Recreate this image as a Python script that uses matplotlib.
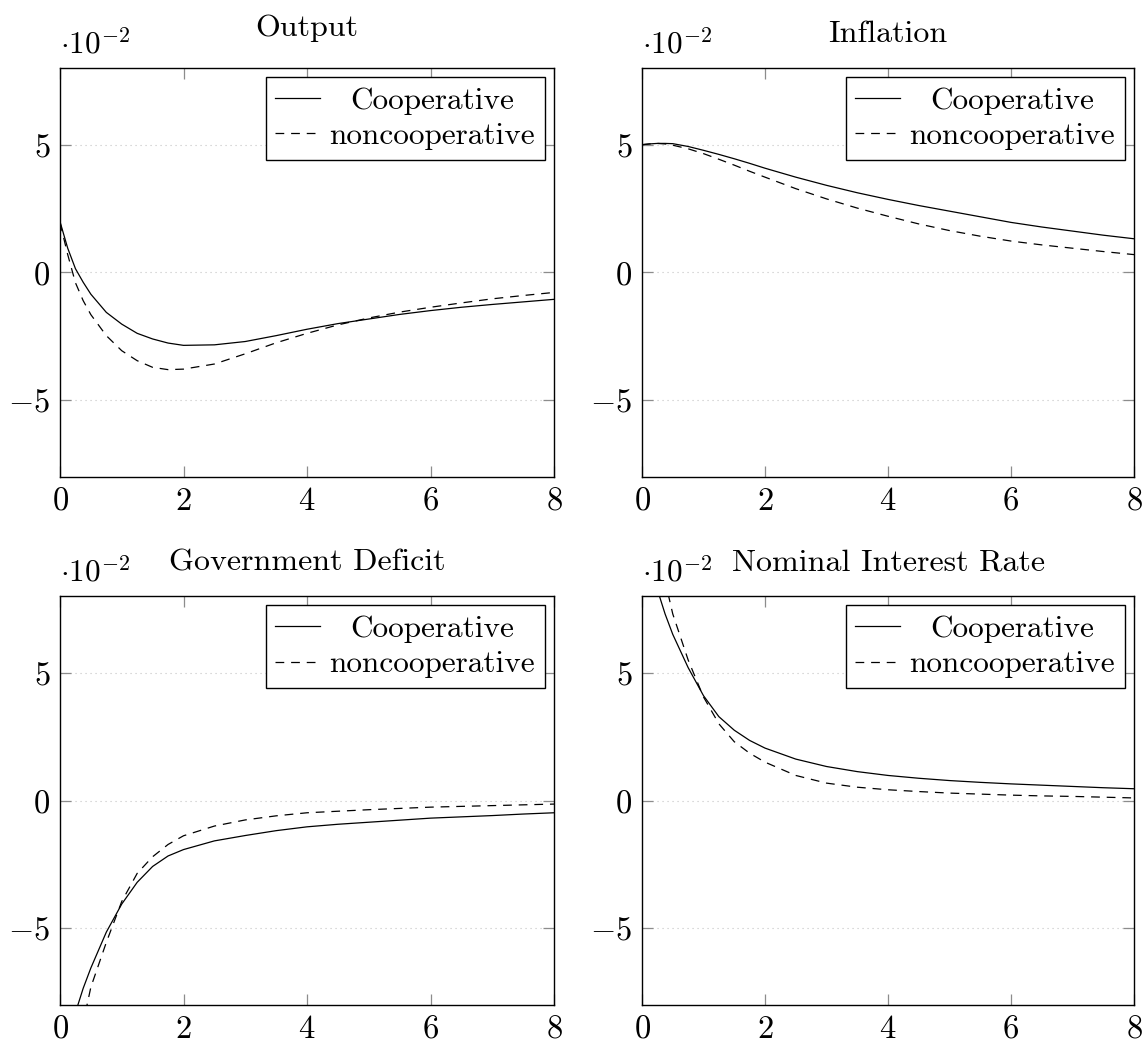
"""Impulse responses: cooperative vs noncooperative policy (2x2 panels)."""
import matplotlib
matplotlib.use("Agg")
import matplotlib.pyplot as plt
import numpy as np

plt.rcParams.update({
    "font.family": "cmr10",
    "mathtext.fontset": "cm",
    "axes.formatter.use_mathtext": True,
    "font.size": 22.5,
})

# horizon; responses in units of 1e-2
x = [0, 0.125, 0.25, 0.375, 0.5, 0.75, 1, 1.25, 1.5, 1.75, 2, 2.5, 3, 3.5,
     4, 4.5, 5, 5.5, 6, 6.5, 7, 7.5, 8]

output_coop = [1.99, 0.95, 0.15, -0.38, -0.85, -1.56, -2.02, -2.38, -2.60, -2.76, -2.85, -2.83, -2.70, -2.47,
               -2.22, -2.00, -1.82, -1.64, -1.49, -1.36, -1.25, -1.15, -1.05]
output_noncoop = [1.95, 0.70, -0.40, -1.10, -1.65, -2.47, -3.06, -3.45, -3.71, -3.80, -3.78, -3.58, -3.18, -2.75,
                  -2.38, -2.05, -1.78, -1.55, -1.36, -1.19, -1.03, -0.90, -0.78]

infl_coop = [5.00, 5.03, 5.05, 5.05, 5.04, 4.93, 4.78, 4.62, 4.45, 4.27, 4.08, 3.73, 3.41, 3.12,
             2.86, 2.62, 2.40, 2.18, 1.96, 1.78, 1.62, 1.46, 1.32]
infl_noncoop = [5.00, 5.03, 5.05, 5.03, 4.98, 4.84, 4.65, 4.43, 4.20, 3.96, 3.73, 3.28, 2.88, 2.52,
                2.20, 1.90, 1.64, 1.42, 1.23, 1.08, 0.95, 0.82, 0.70]

deficit_coop = [np.nan, np.nan, -8.30, -7.35, -6.55, -5.15, -4.05, -3.20, -2.58, -2.17, -1.92, -1.58, -1.37, -1.18,
                -1.03, -0.93, -0.85, -0.77, -0.69, -0.64, -0.59, -0.53, -0.48]
deficit_noncoop = [np.nan, np.nan, -10.5, -8.70, -7.30, -5.55, -3.95, -2.85, -2.20, -1.72, -1.38, -1.00, -0.76, -0.60,
                   -0.48, -0.42, -0.36, -0.31, -0.26, -0.23, -0.20, -0.17, -0.14]

rate_coop = [np.nan, np.nan, 8.25, 7.30, 6.50, 5.20, 4.10, 3.28, 2.75, 2.35, 2.05, 1.62, 1.33, 1.13,
             0.98, 0.87, 0.78, 0.71, 0.65, 0.60, 0.55, 0.50, 0.46]
rate_noncoop = [np.nan, np.nan, 10.5, 8.60, 7.30, 5.50, 4.05, 3.00, 2.30, 1.85, 1.50, 0.98, 0.68, 0.52,
                0.42, 0.35, 0.29, 0.25, 0.21, 0.18, 0.16, 0.13, 0.10]

titles = ["Output", "Inflation", "Government Deficit", "Nominal Interest Rate"]
series = [(output_coop, output_noncoop), (infl_coop, infl_noncoop),
          (deficit_coop, deficit_noncoop), (rate_coop, rate_noncoop)]
labels = ["Cooperative", "noncooperative"]
xticks = [0, 2, 4, 6, 8]
yticks = [-5, 0, 5]

W, H = 1144, 1042
# axes boxes in pixels: left, top, width, height
boxes = [(60, 68, 494, 409), (642, 68, 492, 409),
         (60, 596, 494, 409), (642, 596, 492, 409)]
title_pads = [23, 18.5, 18.5, 18.5]

fig = plt.figure(figsize=(W / 100, H / 100), dpi=100)
legends = []

for (l, t, w, h), title, (coop, noncoop), tpad in zip(boxes, titles, series, title_pads):
    ax = fig.add_axes([l / W, 1 - (t + h) / H, w / W, h / H])
    ax.plot(x, coop, color="black", lw=0.9, label=labels[0])
    ax.plot(x, noncoop, color="black", lw=0.9, ls=(0, (7, 5.5)), label=labels[1])
    ax.set_xlim(0, 8)
    ax.set_ylim(-8, 8)
    ax.set_xticks(xticks)
    ax.set_yticks(yticks)
    for yv in yticks:
        ax.axhline(yv, color="#c4c4c4", lw=0.8, ls=(0, (1, 3.5)), zorder=0)
    ax.tick_params(direction="in", length=8, width=0.9, color="#8c8c8c",
                   top=True, right=True, pad=7, labelsize=23.5)
    for sp in ax.spines.values():
        sp.set_linewidth(1.0)
    ax.set_title(title, pad=tpad, fontsize=23)
    ax.text(0, 1.02, r"$\cdot 10^{-2}$", transform=ax.transAxes,
            ha="left", va="bottom", fontsize=22.5)
    leg = ax.legend(loc="upper right", fancybox=False, framealpha=1,
                    edgecolor="black", borderaxespad=0.3, borderpad=0.3,
                    handlelength=1.45, handletextpad=0.3, labelspacing=0.25)
    leg.get_frame().set_linewidth(1.0)
    legends.append(leg)

# centre the shorter legend label over the longer one (pgfplots default)
fig.canvas.draw()
renderer = fig.canvas.get_renderer()
for leg in legends:
    t0, t1 = leg.get_texts()
    diff = t1.get_window_extent(renderer).width - t0.get_window_extent(renderer).width
    rows = leg._legend_handle_box.get_children()[0].get_children()
    rows[0].sep += diff / 2 * 72 / fig.dpi

fig.savefig("out.png", dpi=100)
